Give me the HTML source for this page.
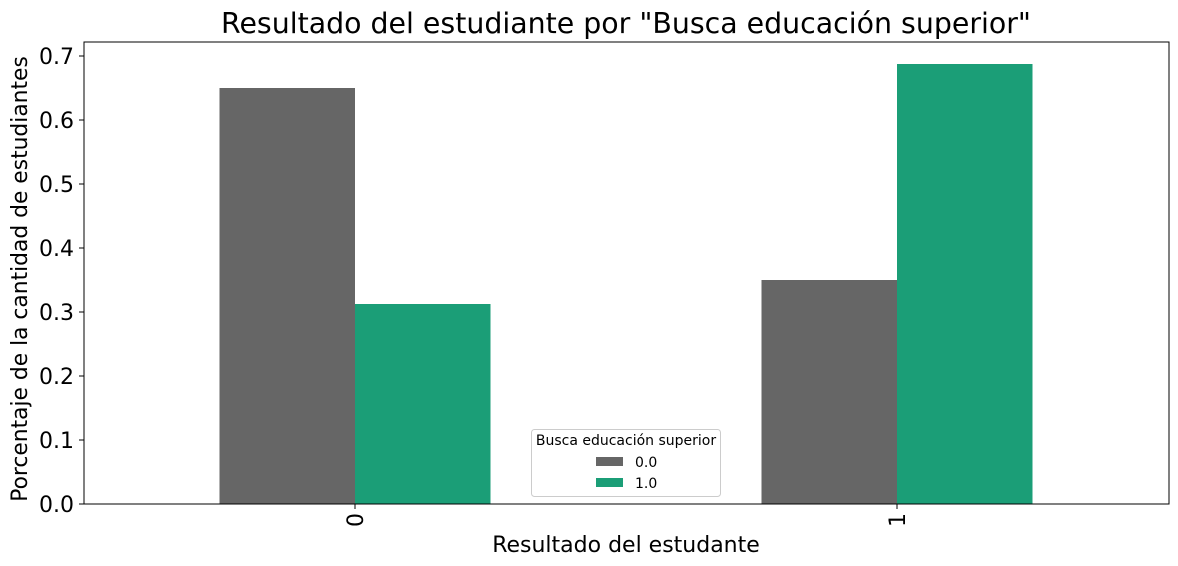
<!DOCTYPE html>
<html><head><meta charset="utf-8"><style>
html,body{margin:0;padding:0;background:#fff;}
svg{display:block;font-family:"DejaVu Sans","Liberation Sans",sans-serif;}
</style></head><body>
<svg id="chart" width="1178" height="566">
<text x="626" y="33" font-size="28.4" text-anchor="middle" fill="#000">Resultado del estudiante por "Busca educación superior"</text>
<g id="bars"></g>
<rect x="84" y="42" width="1085" height="462" fill="none" stroke="#000" stroke-width="1"/>
<g id="yticks"></g>
<g id="xticks"></g>
<text x="626" y="552" font-size="22" text-anchor="middle">Resultado del estudante</text>
<text transform="translate(27,279) rotate(-90)" font-size="21.8" text-anchor="middle">Porcentaje de la cantidad de estudiantes</text>
<g>
<rect x="531.5" y="429.5" width="189" height="67" rx="3" fill="#fff" stroke="#ccc"/>
<text x="626" y="445" font-size="14" text-anchor="middle">Busca educación superior</text>
<rect x="596" y="457" width="27" height="9" fill="#666666"/>
<text x="635" y="467" font-size="14">0.0</text>
<rect x="596" y="478" width="27" height="9" fill="#1b9e77"/>
<text x="635" y="488" font-size="14">1.0</text>
</g>
</svg>
<script>
const categories = ["0", "1"];
const seriesNoHigher = [0.65, 0.35];
const seriesHigher = [0.3125, 0.6875];
const yTickLabels = ["0.0","0.1","0.2","0.3","0.4","0.5","0.6","0.7"];
const NS="http://www.w3.org/2000/svg";
const y0=504, pxPer=640;
function yScale(v){return y0-v*pxPer;}
function xCenter(i){return 355+i*542;}
const barW=135.5;
const bars=document.getElementById('bars');
const series=[{vals:seriesNoHigher,color:"#666666",off:-1},{vals:seriesHigher,color:"#1b9e77",off:0}];
series.forEach(s=>{
  s.vals.forEach((v,i)=>{
    const r=document.createElementNS(NS,'rect');
    r.setAttribute('x',xCenter(i)+s.off*barW);
    r.setAttribute('y',yScale(v));
    r.setAttribute('width',barW);
    r.setAttribute('height',y0-yScale(v));
    r.setAttribute('fill',s.color);
    
    
    bars.appendChild(r);
  });
});
const yt=document.getElementById('yticks');
yTickLabels.forEach(l=>{
  const y=yScale(parseFloat(l));
  const ln=document.createElementNS(NS,'line');
  ln.setAttribute('x1',79);ln.setAttribute('x2',84);ln.setAttribute('y1',y);ln.setAttribute('y2',y);ln.setAttribute('stroke','#000');
  
  
  yt.appendChild(ln);
  const t=document.createElementNS(NS,'text');
  t.setAttribute('x',74);t.setAttribute('y',y+8);t.setAttribute('font-size','22');t.setAttribute('text-anchor','end');
  t.textContent=l;
  
  
  yt.appendChild(t);
});
const xt=document.getElementById('xticks');
categories.forEach((c,i)=>{
  const x=xCenter(i);
  const ln=document.createElementNS(NS,'line');
  ln.setAttribute('x1',x);ln.setAttribute('x2',x);ln.setAttribute('y1',504);ln.setAttribute('y2',509);ln.setAttribute('stroke','#000');
  
  
  xt.appendChild(ln);
  const t=document.createElementNS(NS,'text');
  t.setAttribute('transform','translate('+(x+8)+',513) rotate(-90)');
  t.setAttribute('font-size','22');t.setAttribute('text-anchor','end');
  t.textContent=c;
  
  
  xt.appendChild(t);
});
</script>
</body></html>
